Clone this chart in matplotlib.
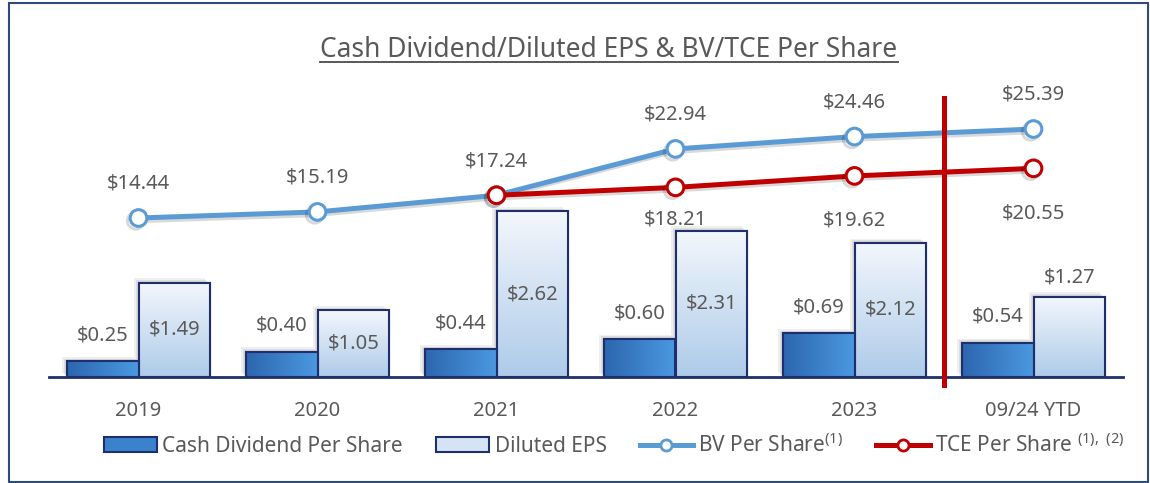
import matplotlib
matplotlib.use('Agg')
import matplotlib.pyplot as plt
import matplotlib.patheffects as pe
from matplotlib.colors import LinearSegmentedColormap
from matplotlib.lines import Line2D
from matplotlib.patches import Rectangle, Patch
import numpy as np

years = ['2019', '2020', '2021', '2022', '2023', '09/24 YTD']
dividend = [0.25, 0.40, 0.44, 0.60, 0.69, 0.54]
eps = [1.49, 1.05, 2.62, 2.31, 2.12, 1.27]
bv = [14.44, 15.19, 17.24, 22.94, 24.46, 25.39]
tce = [np.nan, np.nan, 17.24, 18.21, 19.62, 20.55]

plt.rcParams['font.family'] = ['Noto Sans', 'DejaVu Sans']
plt.rcParams['mathtext.fontset'] = 'custom'
plt.rcParams['mathtext.rm'] = 'Noto Sans'

GRAY = '#595959'
NAVY = '#1F2F6E'
BLUE = '#5B9BD5'
RED = '#C00000'
FS = 14.5

W, H = 1150, 483
fig = plt.figure(figsize=(W / 100, H / 100), dpi=100)

# outer frame
fig.patches.append(Rectangle((9 / W, 1 - 482 / H), 1139 / W, 479 / H, transform=fig.transFigure,
                             fill=False, edgecolor='#2F4A7C', lw=1.5))

ax = fig.add_axes([49 / W, 1 - 377 / H, 1074 / W, 287 / H])
x = np.arange(len(years))
w = 0.4

div_cmap = LinearSegmentedColormap.from_list('div', ['#2C66AE', '#4B99E1'])
eps_cmap = LinearSegmentedColormap.from_list('eps', ['#AECBE9', '#F3F7FC'])
# soft-ish drop shadow: two offset layers
shadow = [pe.SimplePatchShadow(offset=(-3.5, 3), shadow_rgbFace='#9A9A9A', alpha=0.15),
          pe.SimplePatchShadow(offset=(-2, 1.8), shadow_rgbFace='#9A9A9A', alpha=0.2),
          pe.Normal()]


def gradient_bars(xs, vals, cmap, horizontal):
    bars = ax.bar(xs, vals, w, color=cmap(0.5), edgecolor=NAVY, lw=1.5, zorder=2)
    grad = np.linspace(0, 1, 256)
    grad = grad.reshape(1, -1) if horizontal else grad.reshape(-1, 1)
    for b in bars:
        b.set_path_effects(shadow)
        x0, y0 = b.get_x(), b.get_y()
        im = ax.imshow(grad, cmap=cmap, origin='lower', aspect='auto', zorder=2.5,
                       extent=(x0, x0 + b.get_width(), y0, y0 + b.get_height()))
        im.set_clip_path(b)
    ax.bar(xs, vals, w, fill=False, edgecolor=NAVY, lw=1.5, zorder=3)
    return bars


gradient_bars(x - w / 2, dividend, div_cmap, True)
gradient_bars(x + w / 2, eps, eps_cmap, False)

ax.set_xlim(-0.5, 5.5)
ax.set_ylim(0, 4.53)
for s in ['top', 'right', 'left']:
    ax.spines[s].set_visible(False)
ax.spines['bottom'].set_color(NAVY)
ax.spines['bottom'].set_linewidth(2)
ax.spines['bottom'].set_zorder(4)
ax.set_yticks([])
ax.set_xticks(x, years)
ax.tick_params(axis='x', length=0, pad=17, labelsize=FS, labelcolor=GRAY)

for i in x:
    ax.annotate(f'\\${dividend[i]:.2f}', (i - w / 2, dividend[i]), xytext=(0, 15),
                textcoords='offset points', ha='center', va='baseline', fontsize=FS, color=GRAY)
    if i == len(years) - 1:
        ax.annotate(f'\\${eps[i]:.2f}', (i + w / 2, eps[i]), xytext=(0, 10),
                    textcoords='offset points', ha='center', va='baseline', fontsize=FS, color=GRAY)
    else:
        ax.text(i + w / 2, eps[i] / 2, f'\\${eps[i]:.2f}', ha='center', va='center',
                fontsize=FS, color=GRAY, zorder=5)

# per share lines on a second scale
ax2 = ax.twinx()
ax2.set_ylim(-5.12, 30.19)
ax2.axis('off')
line_fx = [pe.SimpleLineShadow(offset=(-2, -2), alpha=0.15), pe.Normal()]
ax2.plot(x, bv, color=BLUE, lw=3.6, marker='o', ms=12, mfc='white', mec=BLUE, mew=2.2,
         zorder=3, path_effects=line_fx)
ax2.plot(x, tce, color=RED, lw=3.6, marker='o', ms=12, mfc='white', mec=RED, mew=2.2,
         zorder=4, path_effects=line_fx)
ax2.axvline(4.5, ymin=-8 / 287, ymax=(377 - 98) / 287, color=RED, lw=3.6, clip_on=False, zorder=6)

for i in x:
    ax2.annotate(f'\\${bv[i]:.2f}', (i, bv[i]), xytext=(0, 21), textcoords='offset points',
                 ha='center', va='baseline', fontsize=FS, color=GRAY)
tce_drop = [27, 36, 36]
for i, d in zip(range(3, 6), tce_drop):
    ax2.annotate(f'\\${tce[i]:.2f}', (i, tce[i]), xytext=(0, -d), textcoords='offset points',
                 ha='center', va='baseline', fontsize=FS, color=GRAY)

handles = [
    Patch(facecolor='#3B82CC', edgecolor=NAVY, lw=1.5),
    Patch(facecolor='#D5E4F4', edgecolor=NAVY, lw=1.5),
    Line2D([], [], color=BLUE, lw=3.6, marker='o', ms=8, mfc='white', mec=BLUE, mew=2),
    Line2D([], [], color=RED, lw=3.6, marker='o', ms=8, mfc='white', mec=RED, mew=2),
]
labels = ['Cash Dividend Per Share', 'Diluted EPS', 'BV Per Share$^{\\mathrm{(1)}}$',
          'TCE Per Share $^{\\mathrm{(1),\\ (2)}}$']
fig.legend(handles, labels, loc='center', bbox_to_anchor=(614 / W, 1 - 445 / H), ncol=4,
           frameon=False, fontsize=15, labelcolor=GRAY, handlelength=2.55, handleheight=0.67,
           handletextpad=0.25, columnspacing=1.6)

title = fig.text(609 / W, 1 - 57 / H, 'Cash Dividend/Diluted EPS & BV/TCE Per Share',
                 ha='center', va='baseline', fontsize=19, color=GRAY)
fig.canvas.draw()
bb = title.get_window_extent()
fig.add_artist(Line2D([bb.x0 / W, bb.x1 / W], [1 - 62 / H] * 2, transform=fig.transFigure,
                      color=GRAY, lw=1.4))

fig.savefig('out.png', dpi=100)
